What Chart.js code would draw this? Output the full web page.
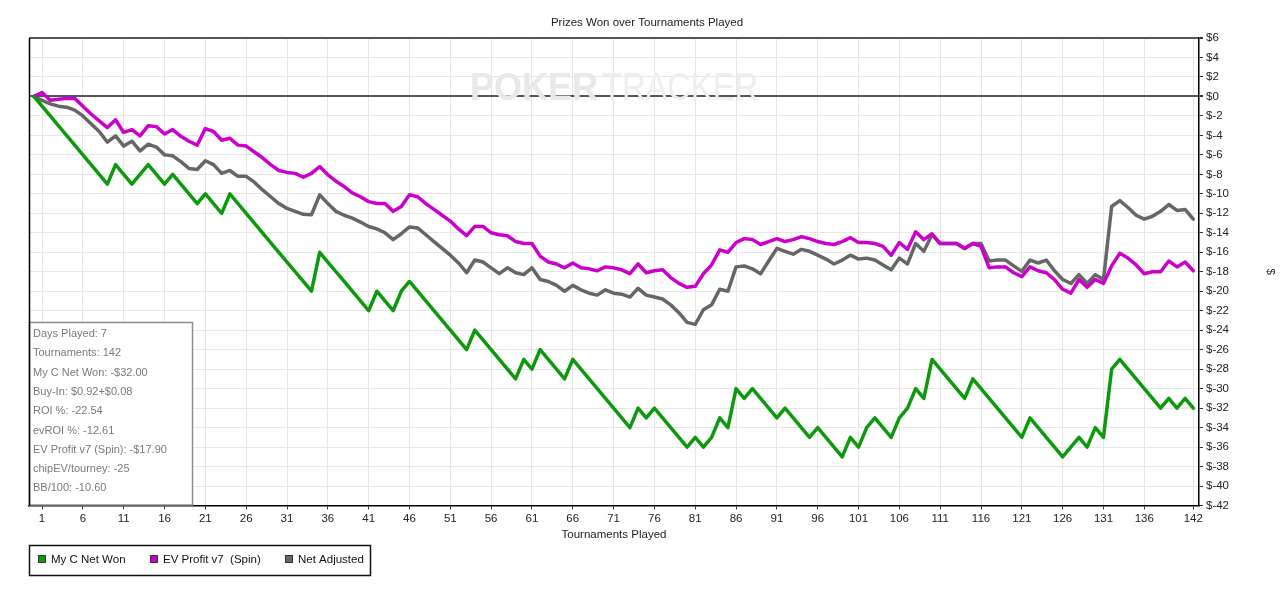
<!DOCTYPE html>
<html>
<head>
<meta charset="utf-8">
<title>Prizes Won over Tournaments Played</title>
<script src="https://cdn.jsdelivr.net/npm/chart.js@4"></script>
<style>
  html, body { margin: 0; padding: 0; background: #fff; }
  #wrap { width: 1280px; height: 593px; }
</style>
</head>
<body>
<div id="wrap"><canvas id="chart" width="1280" height="593"></canvas></div>
<script>
// Textos del gráfico
const chartTitle = 'Prizes Won over Tournaments Played';
const xTitle = 'Tournaments Played';
const yTitle = '$';
const seriesNames = ['My C Net Won', 'EV Profit v7  (Spin)', 'Net Adjusted'];
const seriesColors = ['#0c990c', '#cc00cc', '#666666'];

// Recuadro de estadísticas
const statLines = [
    'Days Played: 7',
    'Tournaments: 142',
    'My C Net Won: -$32.00',
    'Buy-In: $0.92+$0.08',
    'ROI %: -22.54',
    'evROI %: -12.61',
    'EV Profit v7 (Spin): -$17.90',
    'chipEV/tourney: -25',
    'BB/100: -10.60'
];

// Eje X: torneo 0 (inicio) hasta 142
const tournaments = Array.from({length: 143}, (_, i) => i);
const xTickValues = [1, 6, 11, 16, 21, 26, 31, 36, 41, 46, 51, 56, 61, 66, 71, 76, 81, 86, 91, 96,
                     101, 106, 111, 116, 121, 126, 131, 136, 142];

// Eje Y
const yMin = -42;
const yMax = 6;
const yStep = 2;

// Series (valor acumulado en $ tras cada torneo)
const myNetWon = [
    0, -1, -2, -3, -4, -5, -6, -7, -8, -9,
    -7, -8, -9, -8, -7, -8, -9, -8, -9, -10,
    -11, -10, -11, -12, -10, -11, -12, -13, -14, -15,
    -16, -17, -18, -19, -20, -16, -17, -18, -19, -20,
    -21, -22, -20, -21, -22, -20, -19, -20, -21, -22,
    -23, -24, -25, -26, -24, -25, -26, -27, -28, -29,
    -27, -28, -26, -27, -28, -29, -27, -28, -29, -30,
    -31, -32, -33, -34, -32, -33, -32, -33, -34, -35,
    -36, -35, -36, -35, -33, -34, -30, -31, -30, -31,
    -32, -33, -32, -33, -34, -35, -34, -35, -36, -37,
    -35, -36, -34, -33, -34, -35, -33, -32, -30, -31,
    -27, -28, -29, -30, -31, -29, -30, -31, -32, -33,
    -34, -35, -33, -34, -35, -36, -37, -36, -35, -36,
    -34, -35, -28, -27, -28, -29, -30, -31, -32, -31,
    -32, -31, -32
];

const evProfit = [
    0, 0.4, -0.4, -0.3, -0.2, -0.2, -1.0, -1.8, -2.5, -3.2,
    -2.4, -3.7, -3.4, -4.05, -3.0, -3.1, -3.85, -3.4, -4.1, -4.6,
    -5.0, -3.3, -3.6, -4.5, -4.3, -5.0, -5.1, -5.7, -6.3, -7.0,
    -7.6, -7.8, -7.9, -8.3, -7.9, -7.2, -8.05, -8.7, -9.25, -9.9,
    -10.3, -10.8, -11.0, -11.0, -11.8, -11.3, -10.1, -10.3, -11.0, -11.6,
    -12.2, -12.8, -13.6, -14.3, -13.35, -13.35, -14.0, -14.2, -14.3, -14.9,
    -15.1, -15.1, -16.4, -17.0, -17.2, -17.6, -17.1, -17.6, -17.7, -17.9,
    -17.5, -17.6, -17.8, -18.2, -17.2, -18.1, -17.9, -17.8, -18.6, -19.2,
    -19.6, -19.5, -18.2, -17.3, -15.75, -16.0, -15.0, -14.6, -14.7, -15.2,
    -14.9, -14.6, -14.9, -14.7, -14.4, -14.6, -14.9, -15.1, -15.2, -14.9,
    -14.5, -15.0, -15.0, -15.1, -15.4, -16.3, -15.0, -15.7, -13.9, -14.7,
    -14.1, -15.1, -15.1, -15.1, -15.6, -15.1, -15.4, -17.6, -17.5, -17.5,
    -18.1, -18.5, -17.5, -17.9, -18.1, -18.8, -19.8, -20.2, -18.8, -19.6,
    -18.8, -19.2, -17.4, -16.1, -16.6, -17.3, -18.2, -18.0, -18.0, -16.9,
    -17.5, -17.0, -17.9
];

const netAdjusted = [
    0, -0.4, -0.77, -1.0, -1.1, -1.4, -2.0, -2.8, -3.6, -4.7,
    -4.05, -5.1, -4.6, -5.6, -4.9, -5.2, -6.0, -6.1, -6.7, -7.4,
    -7.5, -6.6, -7.0, -7.9, -7.6, -8.2, -8.2, -8.8, -9.6, -10.3,
    -11.0, -11.5, -11.8, -12.1, -12.15, -10.1, -11.0, -11.8, -12.2, -12.5,
    -12.9, -13.35, -13.6, -14.0, -14.7, -14.1, -13.4, -13.5, -14.2, -14.9,
    -15.6, -16.3, -17.1, -18.1, -16.8, -17.0, -17.6, -18.2, -17.6, -18.1,
    -18.3, -17.6, -18.8, -19.0, -19.4, -20.0, -19.4, -19.85, -20.2, -20.4,
    -19.85, -20.2, -20.3, -20.6, -19.7, -20.4, -20.6, -20.8, -21.4, -22.2,
    -23.2, -23.4, -21.9, -21.4, -19.8, -20.0, -17.5, -17.4, -17.7, -18.2,
    -16.9, -15.6, -15.9, -16.2, -15.7, -15.9, -16.3, -16.7, -17.2, -16.8,
    -16.3, -16.7, -16.6, -16.8, -17.3, -17.8, -16.6, -17.2, -15.1, -15.9,
    -14.2, -15.1, -15.1, -15.1, -15.6, -15.1, -15.1, -16.9, -16.8, -16.8,
    -17.4, -17.96, -16.8, -17.1, -16.8, -17.9, -18.8, -19.2, -18.3, -19.2,
    -18.3, -18.8, -11.3, -10.7, -11.4, -12.2, -12.6, -12.3, -11.8, -11.1,
    -11.7, -11.6, -12.6
];

const FONT = '"Liberation Sans", Arial, sans-serif';

// Dibujos extra: marca de agua, recuadro de datos, título y leyenda
const decorations = {
    id: 'decorations',
    beforeDatasetsDraw(chart) {
        const c = chart.ctx;
        c.save();
        c.textBaseline = 'alphabetic';
        c.textAlign = 'left';
        // marca de agua, ajustada a lo ancho
        c.font = 'bold 39px ' + FONT;
        let w = c.measureText('POKER').width;
        c.save();
        c.translate(470, 100);
        c.scale(128 / w, 1);
        c.fillStyle = '#e8e8e8';
        c.fillText('POKER', 0, 0);
        c.restore();
        c.font = '39px ' + FONT;
        w = c.measureText('TRACKER').width;
        c.translate(602, 100);
        c.scale(156 / w, 1);
        c.fillStyle = '#eeeeee';
        c.fillText('TRACKER', 0, 0);
        c.restore();
    },
    afterDatasetsDraw(chart) {
        const c = chart.ctx;
        const a = chart.chartArea;
        c.save();
        c.fillStyle = '#ffffff';
        c.fillRect(a.left, 322, 164, a.bottom - 323);
        c.strokeStyle = '#8c8c8c';
        c.lineWidth = 1.5;
        c.strokeRect(a.left + 0.5, 322.5, 163, a.bottom - 323);
        c.font = '11px ' + FONT;
        c.fillStyle = '#7a7a7a';
        c.textAlign = 'left';
        c.textBaseline = 'middle';
        statLines.forEach((s, i) => c.fillText(s, 33, 334 + i * 19.3));
        c.restore();
    },
    afterDraw(chart) {
        const c = chart.ctx;
        const a = chart.chartArea;
        c.save();
        // título
        c.font = '11.5px ' + FONT;
        c.fillStyle = '#222';
        c.textAlign = 'center';
        c.textBaseline = 'middle';
        c.fillText(chartTitle, 647, 23);
        // borde izquierdo del área
        c.strokeStyle = '#000';
        c.lineWidth = 1.5;
        c.beginPath();
        c.moveTo(a.left + 0.5, a.top);
        c.lineTo(a.left + 0.5, a.bottom);
        c.stroke();
        // leyenda
        c.strokeStyle = '#111';
        c.lineWidth = 1.5;
        c.strokeRect(29.5, 545.5, 341, 30);
        const itemX = [38, 150, 285];
        c.textAlign = 'left';
        chart.data.datasets.forEach((ds, i) => {
            c.fillStyle = ds.borderColor;
            c.fillRect(itemX[i], 555, 8, 8);
            c.strokeStyle = '#333';
            c.lineWidth = 1;
            c.strokeRect(itemX[i] + 0.5, 555.5, 7, 7);
            c.fillStyle = '#111';
            c.fillText(ds.label, itemX[i] + 13, 560);
        });
        c.restore();
    }
};

new Chart(document.getElementById('chart').getContext('2d'), {
    type: 'line',
    data: {
        labels: tournaments,
        datasets: [
            { label: seriesNames[0], data: myNetWon, borderColor: seriesColors[0], backgroundColor: seriesColors[0] },
            { label: seriesNames[1], data: evProfit, borderColor: seriesColors[1], backgroundColor: seriesColors[1] },
            { label: seriesNames[2], data: netAdjusted, borderColor: seriesColors[2], backgroundColor: seriesColors[2] }
        ]
    },
    options: {
        responsive: false,
        animation: false,
        devicePixelRatio: 1,
        layout: { padding: { left: 29, top: 38, right: 0, bottom: 0 } },
        elements: {
            point: { radius: 0 },
            line: { borderWidth: 3.5, tension: 0, borderJoinStyle: 'round', borderCapStyle: 'round', fill: false }
        },
        plugins: {
            legend: { display: false },
            title: { display: false },
            tooltip: { enabled: false }
        },
        scales: {
            x: {
                type: 'linear',
                min: -0.6,
                max: 142.7,
                afterBuildTicks: scale => { scale.ticks = xTickValues.map(v => ({ value: v })); },
                afterFit: scale => { scale.height = 87.5; },
                grid: { color: '#e6e6e6', tickColor: '#333', tickLength: 4 },
                border: { color: '#000', width: 1.5 },
                ticks: {
                    color: '#222',
                    font: { family: FONT, size: 11.5 },
                    padding: 2,
                    maxRotation: 0,
                    autoSkip: false
                },
                title: {
                    display: true,
                    text: xTitle,
                    color: '#222',
                    font: { family: FONT, size: 11.5 },
                    padding: { top: 0, bottom: 51 }
                }
            },
            y: {
                position: 'right',
                min: yMin,
                max: yMax,
                afterFit: scale => { scale.width = 81; },
                grid: {
                    color: ctx => (ctx.tick && (ctx.tick.value === 0 || ctx.tick.value === yMax)) ? '#555' : '#e6e6e6',
                    lineWidth: ctx => (ctx.tick && (ctx.tick.value === 0 || ctx.tick.value === yMax)) ? 2 : 1,
                    tickColor: '#333',
                    tickLength: 4
                },
                border: { color: '#000', width: 1.5 },
                ticks: {
                    stepSize: yStep,
                    color: '#222',
                    font: { family: FONT, size: 11.5 },
                    padding: 3,
                    callback: v => '$' + v
                },
                title: {
                    display: true,
                    text: yTitle,
                    color: '#222',
                    font: { family: FONT, size: 11.5 },
                    padding: { top: 3, bottom: 0 }
                }
            }
        }
    },
    plugins: [decorations]
});
</script>
</body>
</html>
